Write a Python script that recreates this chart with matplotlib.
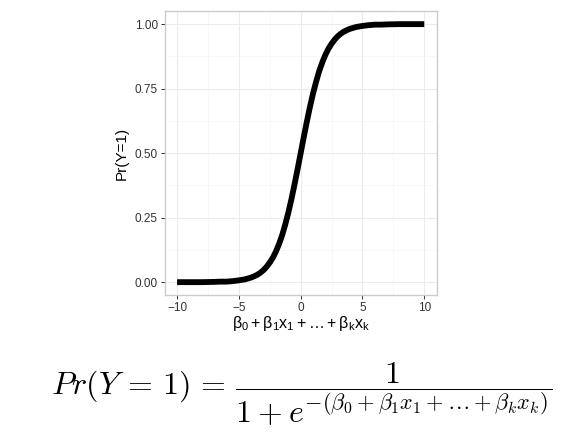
import matplotlib.pyplot as plt

plt.rcParams['font.family'] = ['Liberation Sans', 'DejaVu Sans']
plt.rcParams['mathtext.rm'] = 'Liberation Sans'
plt.rcParams['mathtext.it'] = 'Liberation Sans:italic'

# curve values
eta = [-10, -9, -8, -7, -6.5, -6, -5.5, -5, -4.5, -4, -3.75, -3.5, -3.25, -3,
       -2.75, -2.5, -2.25, -2, -1.75, -1.5, -1.25, -1, -0.75, -0.5, -0.25, 0,
       0.25, 0.5, 0.75, 1, 1.25, 1.5, 1.75, 2, 2.25, 2.5, 2.75, 3, 3.25, 3.5,
       3.75, 4, 4.5, 5, 5.5, 6, 6.5, 7, 8, 9, 10]
prob = [0.000, 0.000, 0.000, 0.001, 0.002, 0.002, 0.004, 0.007, 0.011, 0.018,
        0.023, 0.029, 0.037, 0.047, 0.060, 0.076, 0.095, 0.119, 0.148, 0.182,
        0.223, 0.269, 0.321, 0.378, 0.438, 0.500, 0.562, 0.622, 0.679, 0.731,
        0.777, 0.818, 0.852, 0.881, 0.905, 0.924, 0.940, 0.953, 0.963, 0.971,
        0.977, 0.982, 0.989, 0.993, 0.996, 0.998, 0.998, 0.999, 1.000, 1.000,
        1.000]

x_ticks = [-10, -5, 0, 5, 10]
y_ticks = [0.00, 0.25, 0.50, 0.75, 1.00]
y_ticklabels = ['0.00', '0.25', '0.50', '0.75', '1.00']

fig = plt.figure(figsize=(5.76, 4.32), dpi=100)
ax = fig.add_axes([0.286, 0.317, 0.472, 0.657])

ax.plot(eta, prob, color='black', lw=4.2, solid_capstyle='butt', solid_joinstyle='round')

ax.set_xlim(-11, 11)
ax.set_ylim(-0.05, 1.05)
ax.set_xticks(x_ticks)
ax.set_xticklabels(['\u221210', '\u22125', '0', '5', '10'])
ax.set_yticks(y_ticks)
ax.set_yticklabels(y_ticklabels)
ax.set_xticks([-7.5, -2.5, 2.5, 7.5], minor=True)
ax.set_yticks([0.125, 0.375, 0.625, 0.875], minor=True)

ax.grid(True, which='major', color='#ebebeb', lw=0.8)
ax.grid(True, which='minor', color='#f5f5f5', lw=0.5)
ax.set_axisbelow(True)
for s in ax.spines.values():
    s.set_color('#cccccc')
    s.set_linewidth(1.0)
ax.tick_params(which='major', length=3, width=0.7, color='#333333',
               labelsize=8.5, labelcolor='#333333', pad=2)
ax.tick_params(which='minor', length=0)

ax.set_xlabel(r'$\mathrm{\beta_0 + \beta_1 x_1 + \ldots + \beta_k x_k}$',
              fontsize=11.5, labelpad=0, math_fontfamily='custom')
ax.set_ylabel('Pr(Y=1)', fontsize=11, labelpad=4)

fig.text(0.523, 0.088,
         r'$Pr(Y\,=\,1)\,=\,\dfrac{1}{1+e^{-(\beta_0+\beta_1 x_1+\ldots+\beta_k x_k)}}$',
         fontsize=23, math_fontfamily='cm', ha='center', va='center')

fig.savefig('out.png', dpi=100)
